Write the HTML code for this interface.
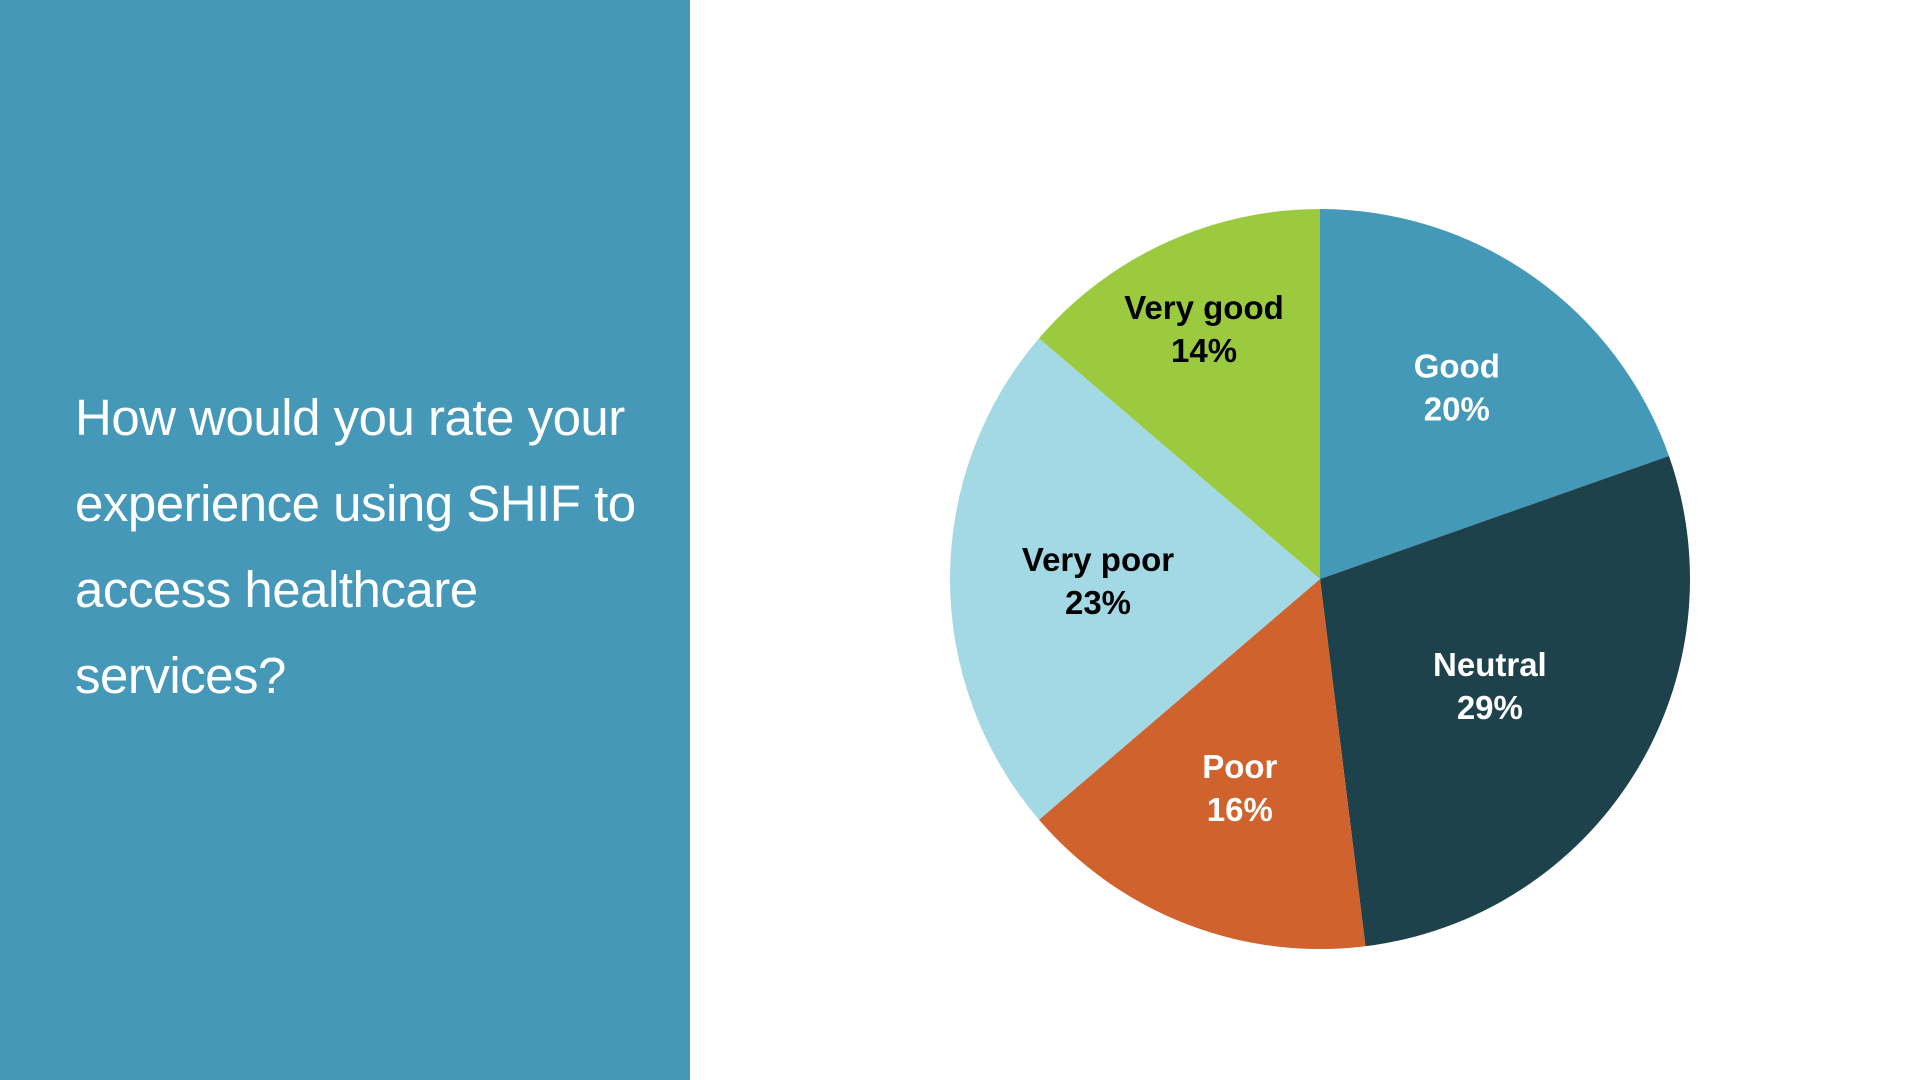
<!DOCTYPE html>
<html><head><meta charset="utf-8"><style>
html,body{margin:0;padding:0;width:1920px;height:1080px;overflow:hidden;background:#fff;font-family:"Liberation Sans",sans-serif}
#panel{position:absolute;left:0;top:0;width:690px;height:1080px;background:#4598b7}
#title{position:absolute;left:75px;top:375px;width:600px;color:#fff;font-size:51px;line-height:86px;letter-spacing:-0.5px}
svg{position:absolute;left:0;top:0}
</style></head><body>
<div id="panel">
<div id="title">How would you rate your experience using SHIF to access healthcare services?</div>
</div>
<svg id="chart" width="1920" height="1080"></svg>
<script>
const categories=["Good","Neutral","Poor","Very poor","Very good"];
const values=[20,29,16,23,14];
const colors=["#4599b8","#1e424b","#d0632d","#a3d8e5","#9bca3e"];
const textColors=["#fff","#fff","#fff","#000","#000"];
const labelRadius=[0.64,0.54,0.60,0.60,0.75];
const cx=1320,cy=579,R=370;
const svg=document.getElementById('chart');
const NS="http://www.w3.org/2000/svg";
const total=values.reduce((a,b)=>a+b,0);
function pt(a,r){return [cx+r*Math.sin(a),cy-r*Math.cos(a)];}
let acc=0;
values.forEach((v,i)=>{
  const a0=acc/total*2*Math.PI; acc+=v; const a1=acc/total*2*Math.PI;
  const p0=pt(a0,R),p1=pt(a1,R);
  const path=document.createElementNS(NS,'path');
  path.setAttribute('d',`M${cx},${cy} L${p0[0]},${p0[1]} A${R},${R} 0 ${a1-a0>Math.PI?1:0} 1 ${p1[0]},${p1[1]} Z`);
  path.setAttribute('fill',colors[i]);
  
  
  svg.appendChild(path);
  const m=(a0+a1)/2; const lp=pt(m,R*labelRadius[i]);
  const t=document.createElementNS(NS,'text');
  t.setAttribute('x',lp[0]);t.setAttribute('y',lp[1]-8);
  t.setAttribute('text-anchor','middle');t.setAttribute('fill',textColors[i]);
  t.setAttribute('font-size','33');t.setAttribute('font-weight','bold');
  t.setAttribute('font-family','Liberation Sans, sans-serif');
  
  
  const s1=document.createElementNS(NS,'tspan');s1.setAttribute('x',lp[0]);s1.textContent=categories[i];
  const s2=document.createElementNS(NS,'tspan');s2.setAttribute('x',lp[0]);s2.setAttribute('dy','43');s2.textContent=v+'%';
  t.appendChild(s1);t.appendChild(s2);svg.appendChild(t);
});
</script>
</body></html>
